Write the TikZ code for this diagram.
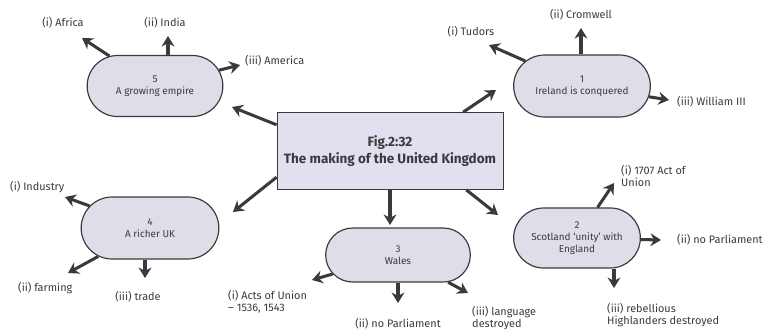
\documentclass[tikz,border=0pt]{standalone}
\usepackage{fontspec}
\setmainfont{Fira Sans}
\usetikzlibrary{shapes.misc, arrows.meta}
\definecolor{stage-color}{RGB}{222,222,232}
\definecolor{hub-color}{RGB}{224,224,238}
\definecolor{ink-color}{RGB}{58,58,62}

\begin{document}
\begin{tikzpicture}[x=0.03cm, y=-0.03cm,
    hub/.style={rectangle, draw=ink-color, fill=hub-color, minimum width=6.78cm, minimum height=2.31cm, align=center, font=\fontsize{11.5}{14}\selectfont\bfseries, text=ink-color, line width=0.7pt},
    stage/.style={rounded rectangle, draw=ink-color, fill=stage-color, align=center, font=\fontsize{8.5}{10}\selectfont, text=ink-color, line width=1pt, inner sep=1pt},
    branch/.style={align=left, font=\fontsize{9.3}{10.5}\selectfont, text=ink-color, inner sep=0pt},
    arrow/.style={-{Stealth[length=9pt, width=11pt, inset=3pt]}, draw=ink-color, line width=2.6pt}]

    \useasboundingbox (0,0) rectangle (768,331);

    % Centre box
    \node[hub] (uk) at (390,151) {Fig.2:32\\The making of the United Kingdom};

    % Five stages
    \node[stage, minimum width=4.17cm, minimum height=1.86cm] (ireland) at (582,86) {1\\Ireland is conquered};
    \node[stage, minimum width=3.87cm, minimum height=1.8cm] (scotland) at (577,238) {2\\Scotland `unity' with\\England};
    \node[stage, minimum width=4.41cm, minimum height=1.62cm] (wales) at (398,255) {3\\Wales};
    \node[stage, minimum width=4.2cm, minimum height=1.86cm] (richer) at (150,228) {4\\A richer UK};
    \node[stage, minimum width=4.14cm, minimum height=1.83cm] (empire) at (155,86) {5\\A growing empire};

    % Arrow tips in free space
    \coordinate (to-empire) at (232,107);
    \coordinate (to-ireland) at (496,90);
    \coordinate (to-richer) at (233,212);
    \coordinate (to-wales) at (390,225);
    \coordinate (to-scotland) at (498,215);
    \coordinate (empire-i) at (82,38);
    \coordinate (empire-ii) at (168,36);
    \coordinate (empire-iii) at (240,65);
    \coordinate (ireland-i) at (489,45);
    \coordinate (ireland-ii) at (581,28);
    \coordinate (ireland-iii) at (669,100);
    \coordinate (richer-i) at (65,197);
    \coordinate (richer-ii) at (68,273);
    \coordinate (richer-iii) at (145,278);
    \coordinate (wales-i) at (312,280);
    \coordinate (wales-ii) at (398,303);
    \coordinate (wales-iii) at (468,293);
    \coordinate (scotland-i) at (614,183);
    \coordinate (scotland-ii) at (661,240);
    \coordinate (scotland-iii) at (614,288);

    % Branch labels
    \node[branch] (africa) at (63,23) {(i) Africa};
    \node[branch] (india) at (165,23) {(ii) India};
    \node[branch, anchor=west] (america) at (245,61) {(iii) America};
    \node[branch] (tudors) at (471,32) {(i) Tudors};
    \node[branch] (cromwell) at (581,15) {(ii) Cromwell};
    \node[branch, anchor=west] (william) at (677,102) {(iii) William III};
    \node[branch, anchor=west] (industry) at (10,187) {(i) Industry};
    \node[branch, anchor=west] (farming) at (18,288) {(ii) farming};
    \node[branch] (trade) at (138,297) {(iii) trade};
    \node[branch, anchor=west] (acts) at (228,302) {(i) Acts of Union\\-- 1536, 1543};
    \node[branch] (noparl-w) at (398,324) {(ii) no Parliament};
    \node[branch, anchor=west] (language) at (472,318) {(iii) language\\destroyed};
    \node[branch, anchor=west] (union) at (621,176) {(i) 1707 Act of\\Union};
    \node[branch, anchor=west] (noparl-s) at (677,240) {(ii) no Parliament};
    \node[branch, anchor=west] (rebels) at (607,315) {(iii) rebellious\\Highlanders destroyed};

    % Arrows from the centre box
    \draw[arrow] (uk.167) -- (to-empire);
    \draw[arrow] (uk.28) -- (to-ireland);
    \draw[arrow] (uk.193) -- (to-richer);
    \draw[arrow] (uk.south) -- (to-wales);
    \draw[arrow] (uk.333) -- (to-scotland);

    % Arrows from the stages
    \draw[arrow] (empire) -- (empire-i);
    \draw[arrow] (empire.north -| empire-ii) -- (empire-ii);
    \draw[arrow] (empire) -- (empire-iii);
    \draw[arrow] (ireland) -- (ireland-i);
    \draw[arrow] (ireland.north -| ireland-ii) -- (ireland-ii);
    \draw[arrow] (ireland) -- (ireland-iii);
    \draw[arrow] (richer) -- (richer-i);
    \draw[arrow] (richer) -- (richer-ii);
    \draw[arrow] (richer.south -| richer-iii) -- (richer-iii);
    \draw[arrow] (wales) -- (wales-i);
    \draw[arrow] (wales.south -| wales-ii) -- (wales-ii);
    \draw[arrow] (wales) -- (wales-iii);
    \draw[arrow] (scotland) -- (scotland-i);
    \draw[arrow] (scotland) -- (scotland-ii);
    \draw[arrow] (scotland.south -| scotland-iii) -- (scotland-iii);
\end{tikzpicture}
\end{document}
